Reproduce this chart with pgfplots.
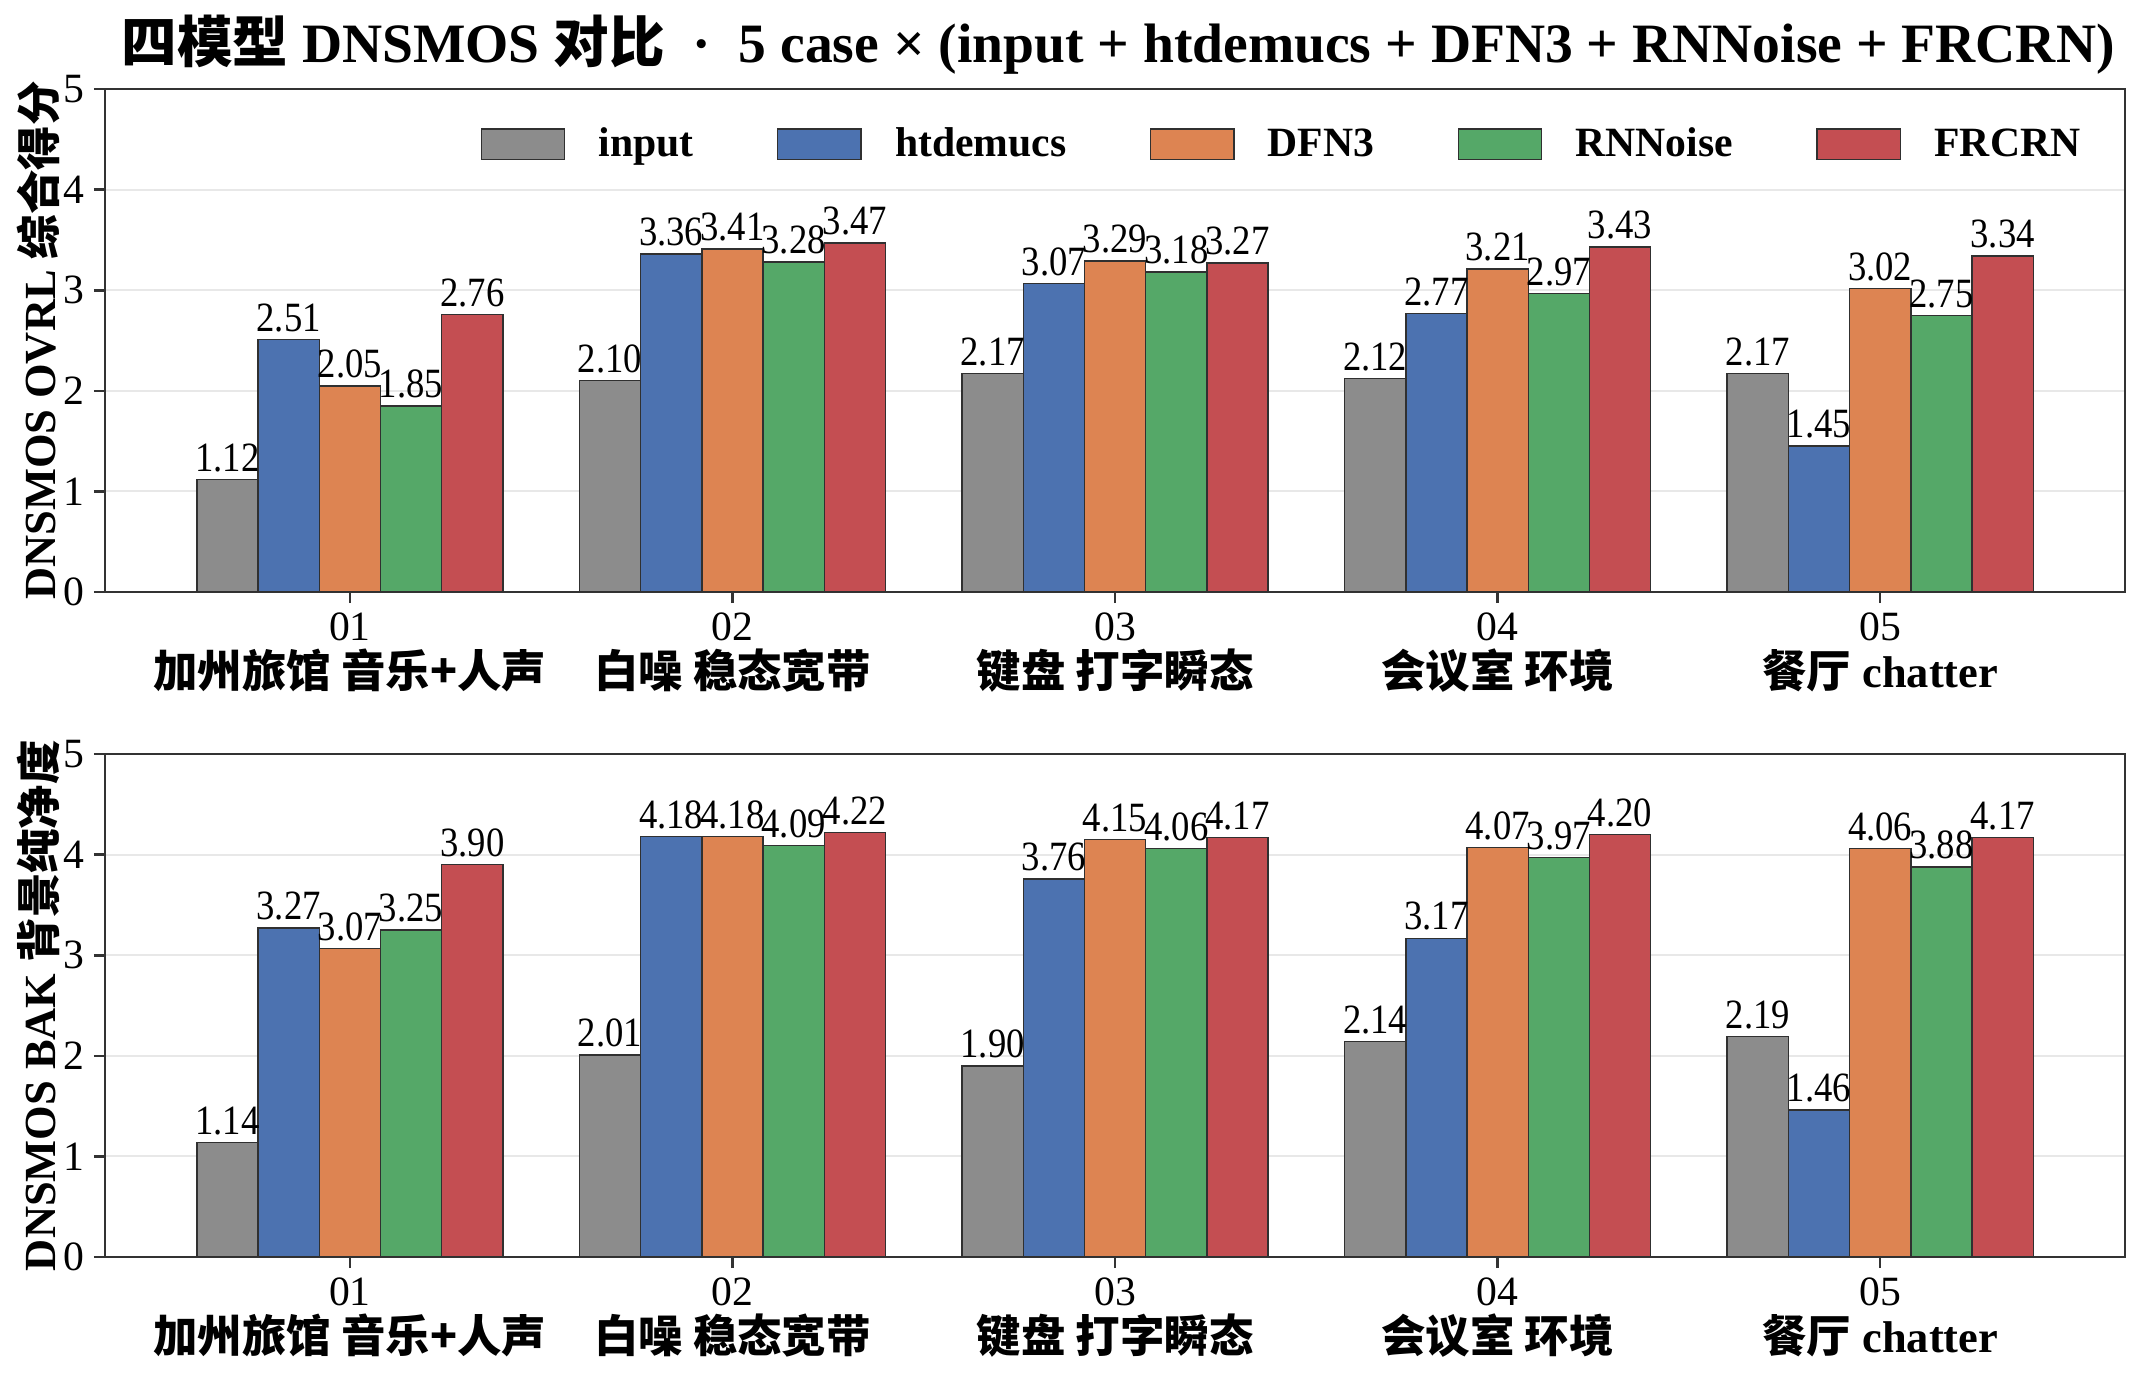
\documentclass[border=0pt]{standalone}
\usepackage{fontspec}
\setmainfont{Liberation Serif}
\newfontfamily\cjk{Noto Sans CJK SC}
\usepackage{pgfplots}
\usepackage{pgfplotstable}
\pgfplotsset{compat=1.18}
\definecolor{cin}{HTML}{8C8C8C}
\definecolor{cht}{HTML}{4C72B0}
\definecolor{cdf}{HTML}{DD8452}
\definecolor{crn}{HTML}{55A868}
\definecolor{cfr}{HTML}{C44E52}
\definecolor{axc}{HTML}{333333}
\definecolor{gridc}{HTML}{E8E8E8}
\definecolor{edgec}{HTML}{303030}

\pgfplotstableread{
x in ht df rn fr
0 1.12 2.51 2.05 1.85 2.76
1 2.10 3.36 3.41 3.28 3.47
2 2.17 3.07 3.29 3.18 3.27
3 2.12 2.77 3.21 2.97 3.43
4 2.17 1.45 3.02 2.75 3.34
}\ovrl
\pgfplotstableread{
x in ht df rn fr
0 1.14 3.27 3.07 3.25 3.90
1 2.01 4.18 4.18 4.09 4.22
2 1.90 3.76 4.15 4.06 4.17
3 2.14 3.17 4.07 3.97 4.20
4 2.19 1.46 4.06 3.88 4.17
}\bak

\pgfplotsset{
  mybars/.style={
    scale only axis, width=727.2pt, height=181pt,
    ybar, bar width=0.16,
    xmin=-0.64, xmax=4.64, ymin=0, ymax=5,
    xtick={0,1,2,3,4},
    xticklabels={
      {01\\{\bfseries\cjk\fontsize{16}{18}\selectfont 加州旅馆 音乐+人声}},
      {02\\{\bfseries\cjk\fontsize{16}{18}\selectfont 白噪 稳态宽带}},
      {03\\{\bfseries\cjk\fontsize{16}{18}\selectfont 键盘 打字瞬态}},
      {04\\{\bfseries\cjk\fontsize{16}{18}\selectfont 会议室 环境}},
      {05\\{\bfseries\fontsize{16}{18}\selectfont{\cjk 餐厅} chatter}}},
    ytick={0,1,2,3,4,5},
    ymajorgrids, grid style={color=gridc, line width=0.7pt},
    axis line style={color=axc, line width=0.9pt},
    tick style={color=axc, line width=0.9pt},
    tick align=outside, xtick pos=bottom, ytick pos=left,
    major tick length=4pt,
    ticklabel style={font=\fontsize{15}{17}\selectfont},
    xticklabel style={align=center, font=\fontsize{15}{17}\selectfont},
    /pgf/number format/assume math mode=true,
    ylabel style={font=\fontsize{16}{18}\selectfont\bfseries, at={(axis description cs:-0.033,0.5)}, anchor=center},
    nodes near coords={\pgfmathprintnumber[fixed,fixed zerofill,precision=2,assume math mode=true]{\pgfplotspointmeta}},
    nodes near coords style={font=\fontsize{15}{17}\selectfont, color=black, inner sep=2.5pt, xscale=0.88},
    every axis plot/.append style={draw=edgec, line width=0.5pt},
  }
}

\begin{document}
\begin{tikzpicture}
\begin{axis}[mybars, at={(37.8pt,282.6pt)}, anchor=south west,
  ylabel={DNSMOS OVRL {\cjk 综合得分}},
  legend style={at={(0.985,0.89)}, anchor=east, draw=none, fill=none,
    font=\fontsize{15}{17}\selectfont\bfseries,
    legend columns=5,
    /tikz/every even column/.append style={column sep=28pt},
    /tikz/every odd column/.append style={column sep=10pt}},
  legend image code/.code={\draw[#1, draw=edgec, line width=0.5pt] (0pt,-5.5pt) rectangle (30pt,5.5pt);},
  ]
\addplot[fill=cin, bar shift=-0.32] table[x=x,y=in]{\ovrl};
\addlegendentry{input}
\addplot[fill=cht, bar shift=-0.16] table[x=x,y=ht]{\ovrl};
\addlegendentry{htdemucs}
\addplot[fill=cdf, bar shift=0] table[x=x,y=df]{\ovrl};
\addlegendentry{DFN3}
\addplot[fill=crn, bar shift=0.16] table[x=x,y=rn]{\ovrl};
\addlegendentry{RNNoise}
\addplot[fill=cfr, bar shift=0.32] table[x=x,y=fr]{\ovrl};
\addlegendentry{FRCRN}
\end{axis}
\begin{axis}[mybars, at={(37.8pt,43.2pt)}, anchor=south west,
  ylabel={DNSMOS BAK {\cjk 背景纯净度}},
  ]
\addplot[fill=cin, bar shift=-0.32] table[x=x,y=in]{\bak};
\addplot[fill=cht, bar shift=-0.16] table[x=x,y=ht]{\bak};
\addplot[fill=cdf, bar shift=0] table[x=x,y=df]{\bak};
\addplot[fill=crn, bar shift=0.16] table[x=x,y=rn]{\bak};
\addplot[fill=cfr, bar shift=0.32] table[x=x,y=fr]{\bak};
\end{axis}
\node[font=\fontsize{20}{23}\selectfont\bfseries, anchor=center] at (402.5pt,479.5pt)
  {{\cjk 四模型} DNSMOS {\cjk 对比}\ \ ·\ \ 5 case × (input + htdemucs + DFN3 + RNNoise + FRCRN)};
\pgfresetboundingbox
\path (0,0) rectangle (772.9pt,495.7pt);
\end{tikzpicture}
\end{document}
